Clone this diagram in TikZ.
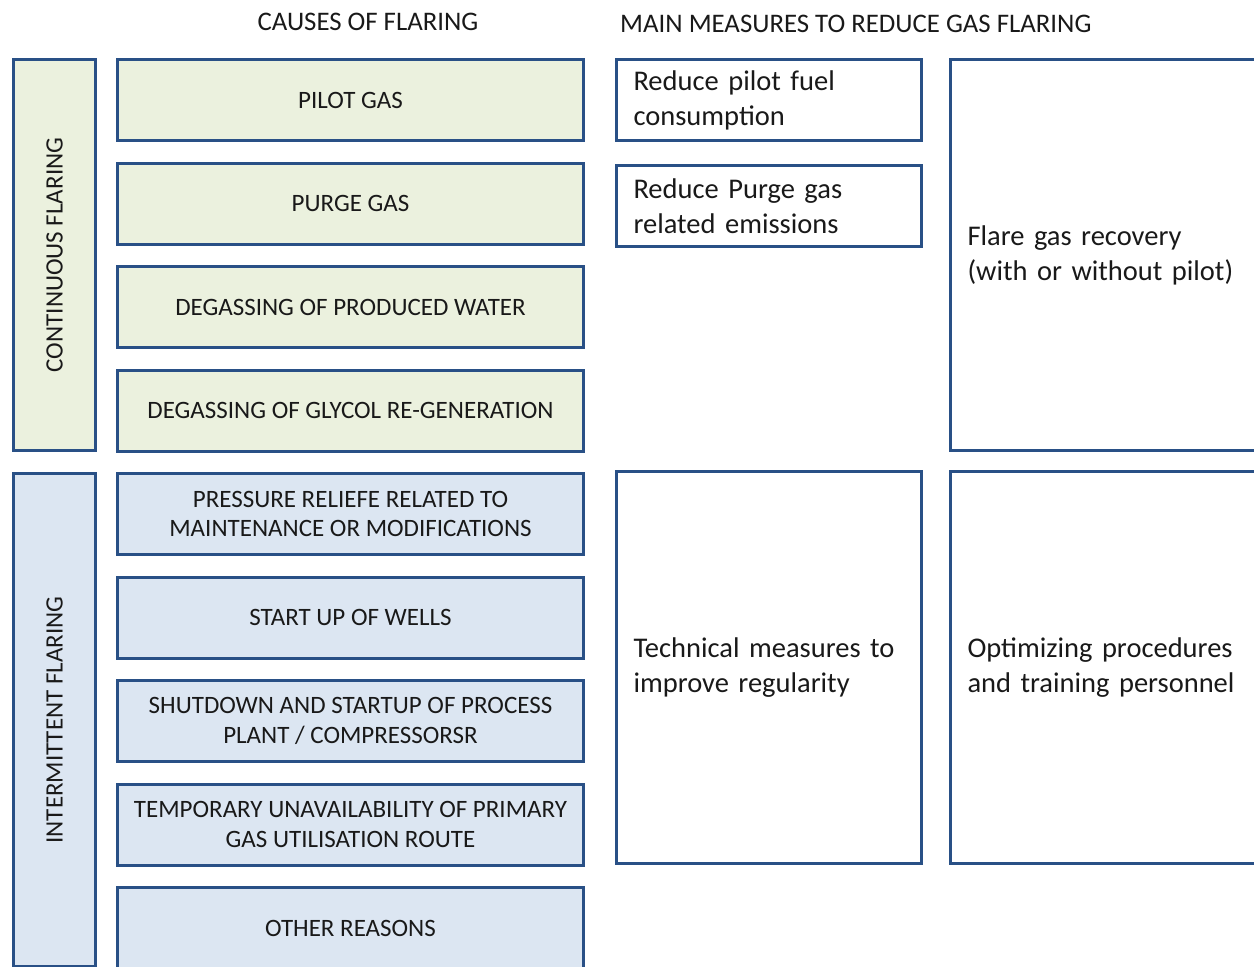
\documentclass[tikz,border=0pt]{standalone}
\usepackage{fontspec}
\setmainfont{Carlito}
\usepackage{xcolor}
\usetikzlibrary{positioning}
\definecolor{boxline}{RGB}{41,80,134}
\definecolor{contfill}{HTML}{EBF1DE}
\definecolor{intfill}{HTML}{DCE6F2}

\begin{document}
\begin{tikzpicture}[x=1pt, y=-1pt, node distance=19.5pt,
    every node/.style={inner sep=0pt, text=black!90, font=\fontsize{25}{29.5}\selectfont},
    box/.style={draw=boxline, line width=3pt, rectangle},
    cause/.style={box, minimum width=466pt, minimum height=81pt, align=center},
    group/.style={box, rotate=90, minimum height=82pt},
    measure/.style={box, anchor=north west, align=left, inner xsep=17pt,
        font=\fontsize{28.5}{35}\selectfont},
    heading/.style={font=\fontsize{26.8}{30}\selectfont}]
    \useasboundingbox (0,0) rectangle (1254,967);
    \clip (0,0) rectangle (1254,967);

    % headings
    \node[heading] (causeshead) at (368,22) {CAUSES OF FLARING};
    \node[heading, anchor=west] (measureshead) at (620,24) {MAIN MEASURES TO REDUCE GAS FLARING};

    % flaring types
    \node[group, fill=contfill, minimum width=391pt] (continuous) at (54.5,255) {CONTINUOUS FLARING};
    \node[group, fill=intfill, minimum width=493pt] (intermittent) at (54.5,720) {INTERMITTENT FLARING};

    % causes
    \node[cause, fill=contfill] (pilot) at (350.5,100) {PILOT GAS};
    \node[cause, fill=contfill, below=of pilot] (purge) {PURGE GAS};
    \node[cause, fill=contfill, below=of purge] (water) {DEGASSING OF PRODUCED WATER};
    \node[cause, fill=contfill, below=of water] (glycol) {DEGASSING OF GLYCOL RE-GENERATION};
    \node[cause, fill=intfill, below=of glycol] (relief) {PRESSURE RELIEFE RELATED TO\\MAINTENANCE OR MODIFICATIONS};
    \node[cause, fill=intfill, below=of relief] (wells) {START UP OF WELLS};
    \node[cause, fill=intfill, below=of wells] (shutdown) {SHUTDOWN AND STARTUP OF PROCESS\\PLANT / COMPRESSORSR};
    \node[cause, fill=intfill, below=of shutdown] (unavail) {TEMPORARY UNAVAILABILITY OF PRIMARY\\GAS UTILISATION ROUTE};
    \node[cause, fill=intfill, below=of unavail] (other) {OTHER REASONS};

    % measures
    \node[measure, minimum height=81pt, text width=271pt] (pilotfuel) at (615,58) {Reduce pilot fuel\\consumption};
    \node[measure, minimum height=81pt, text width=271pt] (purgecut) at (615,164) {Reduce Purge gas\\related emissions};
    \node[measure, minimum height=391pt, text width=286pt] (recovery) at (949,58) {Flare gas recovery\\(with or without pilot)};
    \node[measure, minimum height=392pt, text width=271pt] (regularity) at (615,470) {Technical measures to\\improve regularity};
    \node[measure, minimum height=392pt, text width=286pt] (procedures) at (949,470) {Optimizing procedures\\and training personnel};
\end{tikzpicture}
\end{document}
